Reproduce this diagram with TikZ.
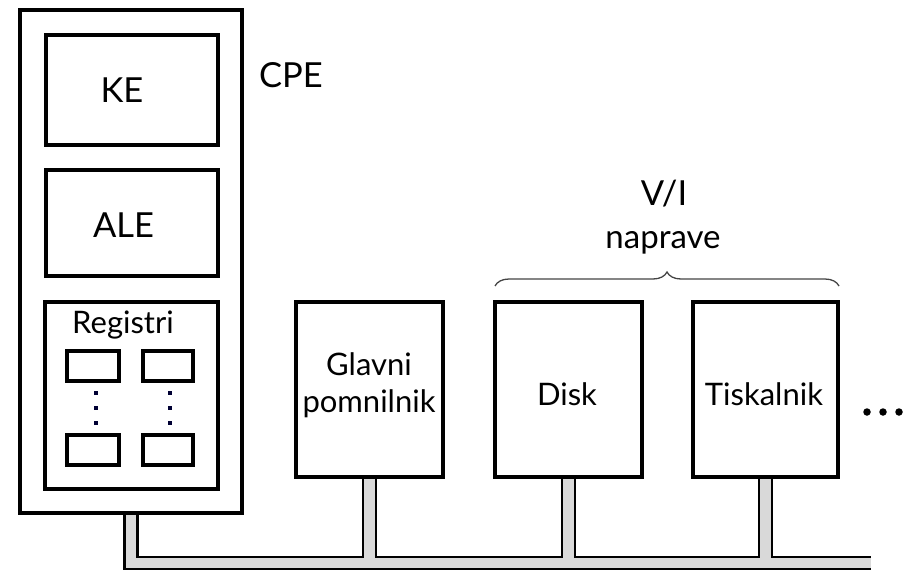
\documentclass[tikz,border=0pt]{standalone}
\usepackage{fontspec}
\setmainfont{Lato}
\usetikzlibrary{calc,decorations.pathreplacing}
\definecolor{busgray}{HTML}{D9D9D9}
\definecolor{bracegray}{HTML}{444444}
\begin{document}
\begin{tikzpicture}[x=1pt,y=-1pt,
  box/.style={draw,line width=3.2pt,inner sep=0pt,fill=white},
  lbl/.style={anchor=base,inner sep=0pt,font=\fontsize{31}{36}\selectfont},
  caplbl/.style={lbl,font=\fontsize{34.5}{40}\selectfont},
  busline/.style={line width=2.8pt},
  regdot/.style={fill=black!80!blue,minimum size=4pt,inner sep=0pt},
  moredot/.style={circle,fill=black,minimum size=7.5pt,inner sep=0pt}]
\useasboundingbox (0,0) rectangle (912,570);

% CPE and its parts
\node[box,minimum width=222pt,minimum height=503pt] (cpe) at (131,261.5) {};
\node[box,minimum width=172pt,minimum height=110pt] (ke) at (132,90) {};
\node[box,minimum width=172pt,minimum height=106pt] (ale) at (132,223) {};
\node[box,minimum width=173pt,minimum height=187pt] (reg) at (131.5,395.5) {};
\node[box,minimum width=52pt,minimum height=30pt] (r1) at (93,366) {};
\node[box,minimum width=50pt,minimum height=30pt] (r2) at (168,366) {};
\node[box,minimum width=52pt,minimum height=30pt] (r3) at (93,450) {};
\node[box,minimum width=50pt,minimum height=30pt] (r4) at (168,450) {};
\foreach \x/\n in {96/a,170/b}{
  \foreach \y/\m in {393/1,408/2,423/3}{
    \node[regdot] (d\n\m) at (\x,\y) {};
  }
}

% other units
\node[box,minimum width=147pt,minimum height=175pt] (glavni) at (369.5,389.5) {};
\node[box,minimum width=147pt,minimum height=175pt] (disk) at (568.5,389.5) {};
\node[box,minimum width=145pt,minimum height=175pt] (tisk) at (765.5,389.5) {};

% texts
\node[caplbl] (keT) at (122,102) {KE};
\node[caplbl] (aleT) at (123.5,237) {ALE};
\node[caplbl] (cpeT) at (291,87) {CPE};
\node[lbl,anchor=base west] (regT) at (72,333) {Registri};
\node[lbl] (glT1) at (369,375) {Glavni};
\node[lbl] (glT2) at (369,412) {pomnilnik};
\node[lbl] (diskT) at (567,405) {Disk};
\node[lbl] (tiskT) at (764,405) {Tiskalnik};
\node[caplbl] (viT) at (664,205) {V/I};
\node[lbl,font=\fontsize{33}{38}\selectfont] (napT) at (663,248) {naprave};

% more devices
\node[moredot] (m1) at (867,412) {};
\node[moredot] (m2) at (883,412) {};
\node[moredot] (m3) at (899,412) {};

% brace
\coordinate (brL) at (495,286);
\coordinate (brR) at (839,286);
\draw[decorate,decoration={brace,amplitude=14pt},bracegray,line width=1.3pt] (brL) -- (brR);

% bus
\coordinate (bt) at (0,557);
\coordinate (bb) at (0,569);
\coordinate (bend) at (871,0);
\coordinate (c1) at ($(cpe.south)+(-6.5,0)$);
\coordinate (c2) at ($(cpe.south)+(6.5,0)$);
\coordinate (g1) at ($(glavni.south)+(-6.5,0)$);
\coordinate (g2) at ($(glavni.south)+(6.5,0)$);
\coordinate (k1) at ($(disk.south)+(-6.5,0)$);
\coordinate (k2) at ($(disk.south)+(6.5,0)$);
\coordinate (t1) at ($(tisk.south)+(-6.5,0)$);
\coordinate (t2) at ($(tisk.south)+(6.5,0)$);

\fill[busgray] (c1 |- bb) rectangle (bend |- bt);
\fill[busgray] (c1) rectangle (c2 |- bt);
\fill[busgray] (g1) rectangle (g2 |- bt);
\fill[busgray] (k1) rectangle (k2 |- bt);
\fill[busgray] (t1) rectangle (t2 |- bt);

\draw[busline] (c1) |- (bb -| bend);
\draw[busline] (c2) |- (bt -| g1) -- (g1);
\draw[busline] (g2) |- (bt -| k1) -- (k1);
\draw[busline] (k2) |- (bt -| t1) -- (t1);
\draw[busline] (t2) |- (bt -| bend);
\end{tikzpicture}
\end{document}
